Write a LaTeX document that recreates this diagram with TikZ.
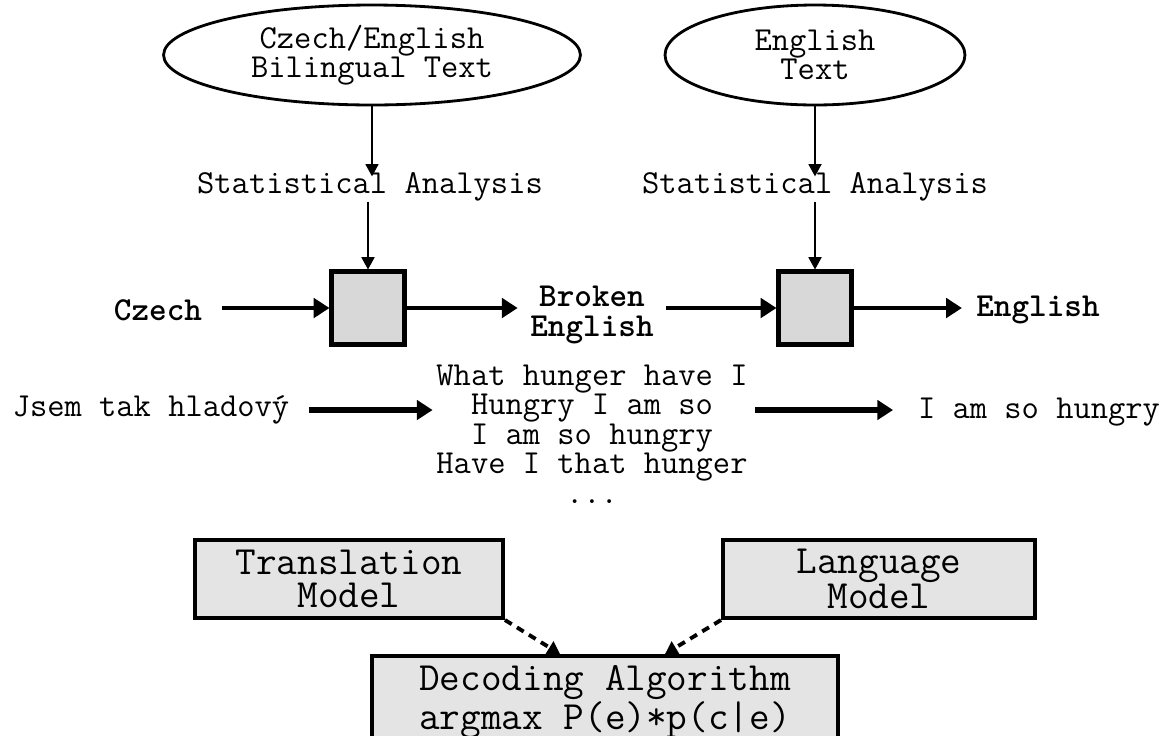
\documentclass[tikz,border=0pt]{standalone}
\usetikzlibrary{positioning}
\usetikzlibrary{calc}
\usetikzlibrary{shapes.geometric,arrows.meta}
\definecolor{boxgray}{HTML}{D8D8D8}
\definecolor{modelgray}{HTML}{E4E4E4}

\begin{document}
\begin{tikzpicture}[x=0.02cm, y=-0.02cm,
    txt/.style={font=\ttfamily\fontsize{19.1}{16.8}\selectfont, align=center, inner sep=0pt},
    btxt/.style={font=\ttfamily\bfseries\fontsize{19.1}{16.8}\selectfont, align=center, inner sep=0pt},
    corpus/.style={draw, ellipse, line width=1.6pt, inner sep=0pt,
    font=\ttfamily\fontsize{19.1}{16.8}\selectfont, align=center},
    stage/.style={draw, fill=boxgray, line width=2.3pt, minimum size=1.46cm},
    model/.style={draw, fill=modelgray, line width=2.3pt, align=center,
    font=\ttfamily\fontsize{22.8}{19}\selectfont},
    thin/.style={-{Triangle[length=7pt, width=7.5pt]}, line width=0.7pt},
    thick/.style={-{Triangle[length=9pt, width=11pt]}, line width=2.8pt},
    dashy/.style={-{Triangle[length=7pt, width=8pt]}, line width=2.2pt, dash pattern=on 4.5pt off 3.5pt},
    ]
    \useasboundingbox (0,0) rectangle (1171,735);
    \clip (0,0) rectangle (1171,735);

    \node[corpus, minimum width=8.34cm, minimum height=2cm] (bitext) at (372,55) {Czech/English\\Bilingual Text};
    \node[corpus, minimum width=6cm, minimum height=2cm] (mono) at (815,55) {English\\Text};

    \node[txt] (sa1) at (370,187) {Statistical Analysis};
    \node[txt] (sa2) at (815,187) {Statistical Analysis};

    \node[stage] (tbox) at (368,308) {};
    \node[stage] (lbox) at (815,308) {};

    \node[btxt] (czech) at (158,310) {Czech};
    \node[btxt] (broken) at (592,315) {Broken\\English};
    \node[btxt] (english) at (1038,310) {English};

    \node[txt] (src) at (151,410) {Jsem tak hladový};
    \node[txt] (cand) at (592,434) {What hunger have I\\Hungry I am so\\I am so hungry\\Have I that hunger\\...};
    \node[txt] (tgt) at (1039,412) {I am so hungry};

    \node[model, minimum width=6.16cm, minimum height=1.56cm] (tm) at (349,579) {Translation\\Model};
    \node[model, minimum width=6.24cm, minimum height=1.56cm] (lm) at (879,579) {Language\\Model};
    \node[model, minimum width=9.32cm, minimum height=1.84cm] (dec) at (605,702) {Decoding Algorithm\\argmax P(e)*p(c|e)};

    \draw[thin] (bitext.south) -- ($(sa1.north -| bitext.south)+(0,4)$);
    \draw[thin] (sa1.south -| tbox) -- (tbox.north);
    \draw[thin] (mono.south) -- ($(sa2.north -| mono.south)+(0,4)$);
    \draw[thin] (sa2.south -| lbox) -- (lbox.north);

    \draw[thick, shorten <=11pt] (czech.east |- tbox) -- (tbox.west);
    \draw[thick, shorten >=7pt] (tbox.east) -- (tbox.east -| broken.west);
    \draw[thick, shorten <=7pt] (lbox.west -| broken.east) -- (lbox.west);
    \draw[thick, shorten >=8pt] (lbox.east) -- (lbox.east -| english.west);

    \draw[thick, line width=3.3pt, shorten <=11pt, shorten >=2pt] (src.east) -- (src.east -| cand.west);
    \draw[thick, line width=3.3pt, shorten <=4pt, shorten >=14pt] (src.east -| cand.east) -- (src.east -| tgt.west);

    \draw[dashy] (tm.south east) -- ($(dec.north)+(-45,0)$);
    \draw[dashy] (lm.south west) -- ($(dec.north)+(60,0)$);
\end{tikzpicture}
\end{document}
